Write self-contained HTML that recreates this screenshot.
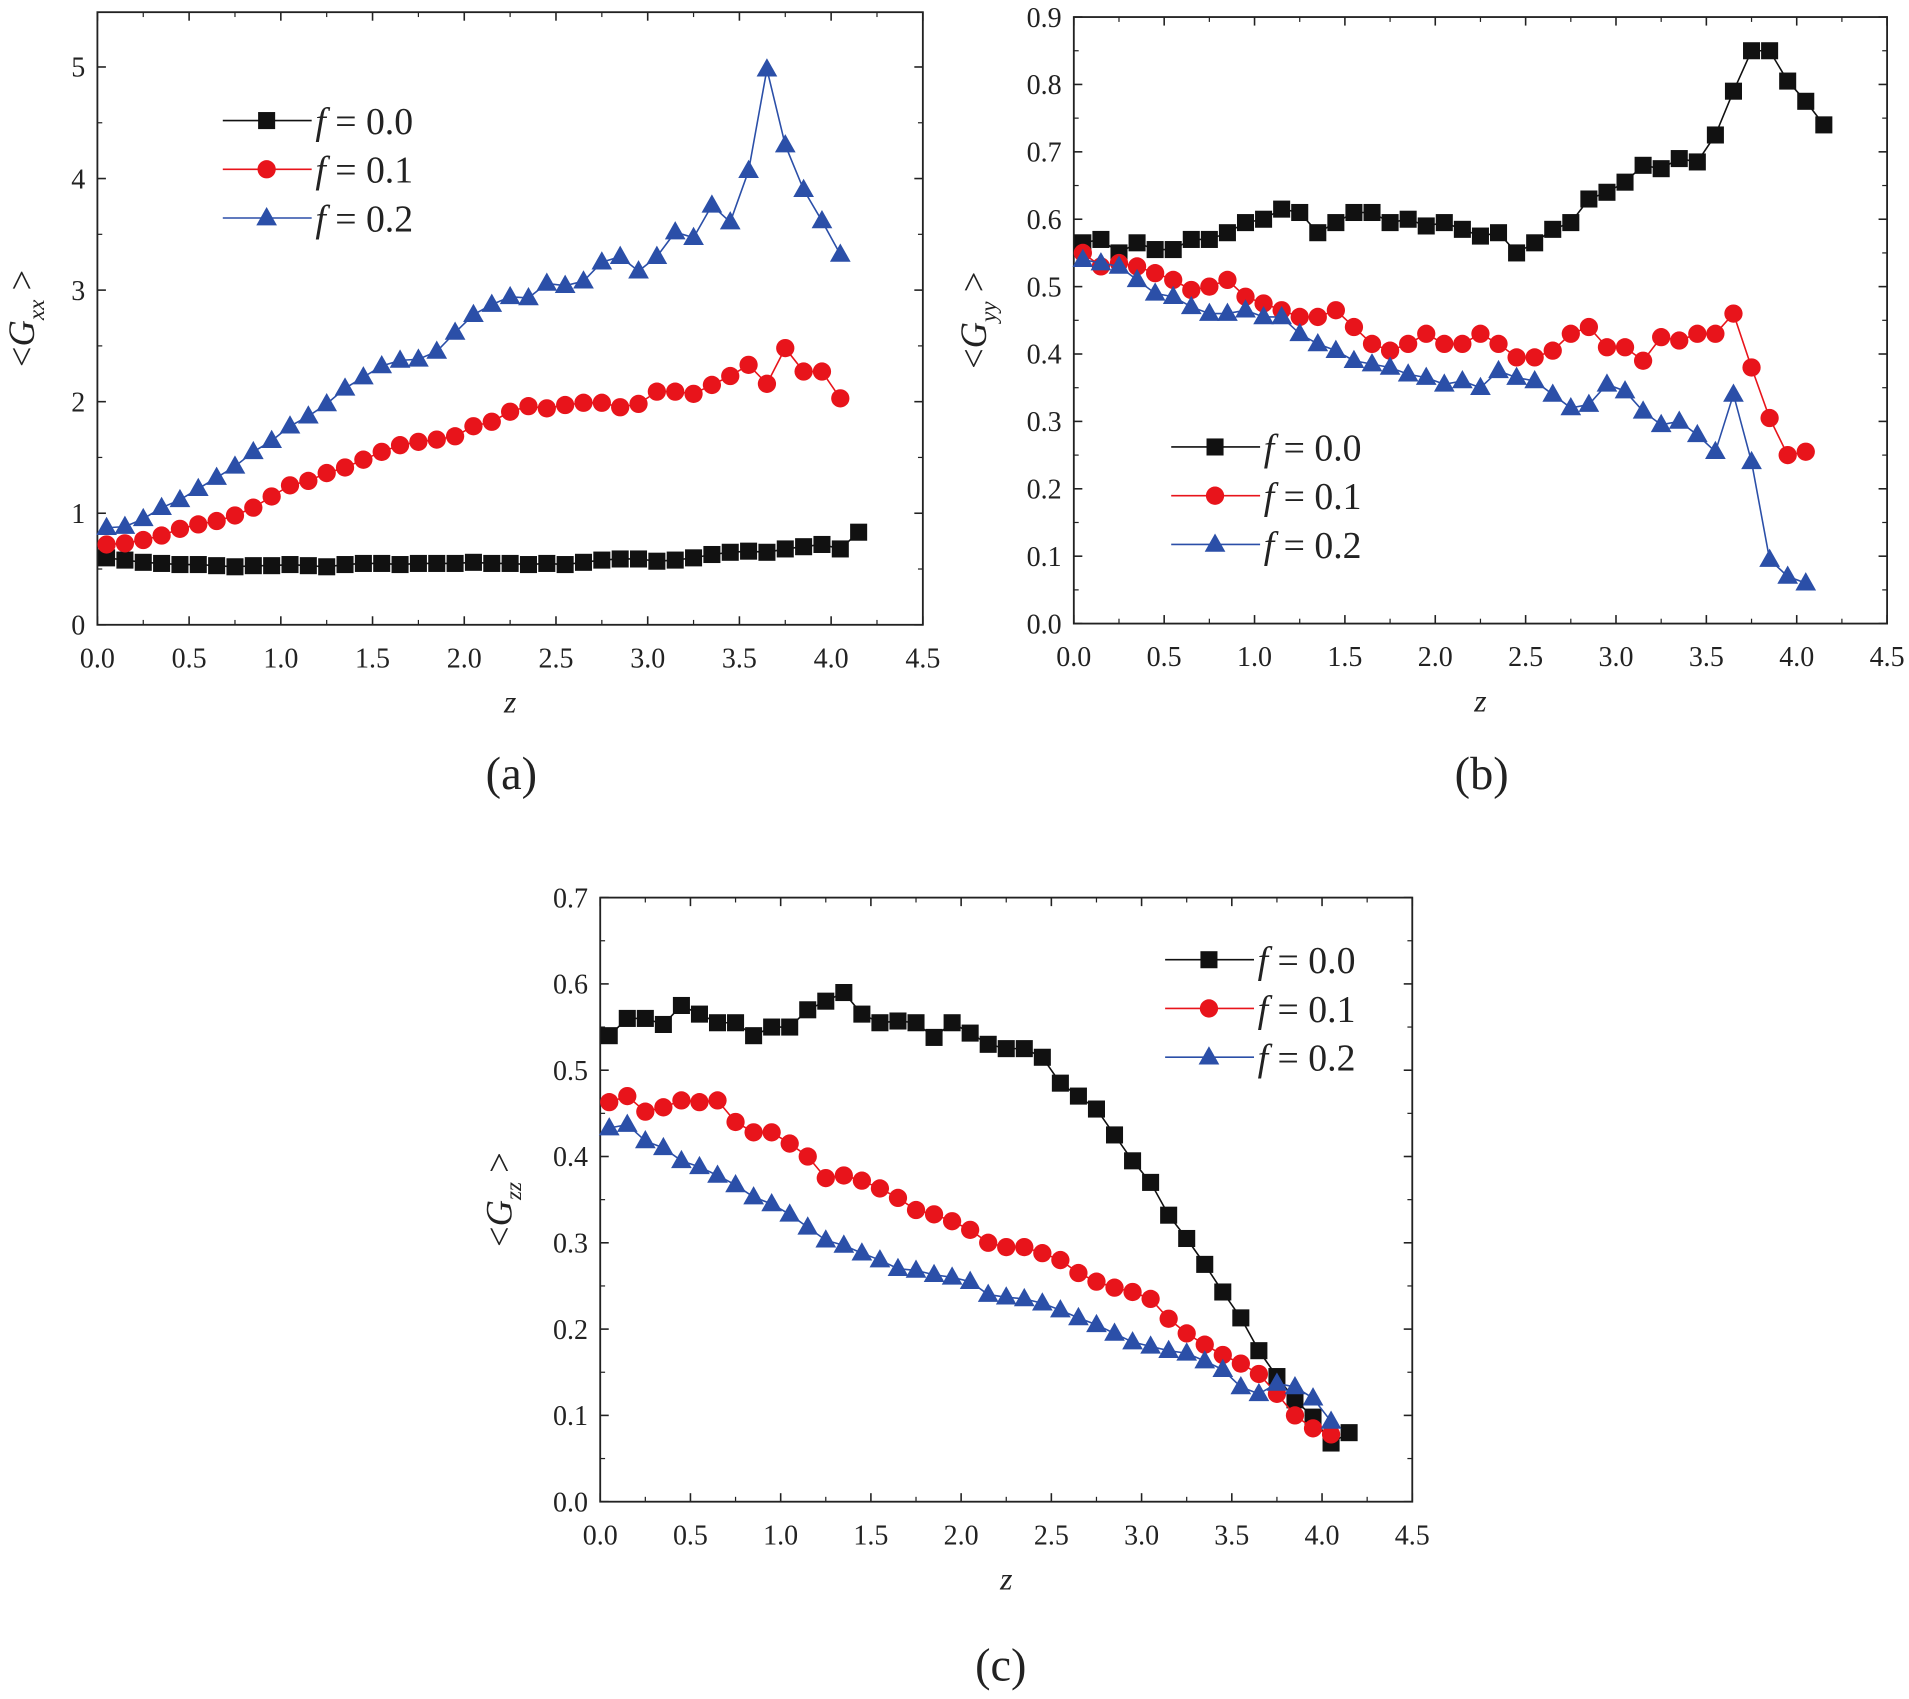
<!DOCTYPE html>
<html><head><meta charset="utf-8"><style>
html,body{margin:0;padding:0;background:#fff;}
svg{display:block;}
svg text{font-family:"Liberation Serif","DejaVu Serif","Times New Roman",serif;fill:#222;}
</style></head><body>
<svg id="s" width="1909" height="1699" viewBox="0 0 1568 1395" preserveAspectRatio="none" xmlns="http://www.w3.org/2000/svg" font-family="Liberation Serif, DejaVu Serif, serif">
<text x="420" y="648" font-size="38" text-anchor="middle">(a)</text>
<text x="1217" y="648" font-size="38" text-anchor="middle">(b)</text>
<text x="822" y="1380" font-size="38" text-anchor="middle">(c)</text>
</svg>
<script>
const NS="http://www.w3.org/2000/svg",S=document.getElementById('s');
function el(t,a,txt){const e=document.createElementNS(NS,t);for(const k in a)e.setAttribute(k,a[k]);if(txt!==undefined)e.textContent=txt;S.appendChild(e);return e;}
function marker(type,x,y,c){
 if(type==0)el('rect',{x:x-7,y:y-7,width:14,height:14,fill:'#111'});
 else if(type==1)el('circle',{cx:x,cy:y,r:7.5,fill:'#e8141b'});
 else el('polygon',{points:`${x},${y-9} ${x-8.5},${y+6} ${x+8.5},${y+6}`,fill:'#2b4fa8'});
}
const cols=['#111','#e8141b','#2b4fa8'];
function plot(P){
 const X=v=>P.x0+(P.x1-P.x0)*v/4.5, Y=v=>P.y0+(P.y1-P.y0)*(v-0)/P.ymaxTick;
 el('rect',{x:P.x0,y:P.top,width:P.x1-P.x0,height:P.y0-P.top,fill:'none',stroke:'#222','stroke-width':1.5});
 for(let i=0;i<=9;i++){const v=i*0.5,x=X(v);
  el('line',{x1:x,y1:P.y0,x2:x,y2:P.y0-7,stroke:'#222','stroke-width':1.3});
  el('line',{x1:x,y1:P.top,x2:x,y2:P.top+7,stroke:'#222','stroke-width':1.3});
  if(i<9){const xm=X(v+0.25);el('line',{x1:xm,y1:P.y0,x2:xm,y2:P.y0-4,stroke:'#222'});el('line',{x1:xm,y1:P.top,x2:xm,y2:P.top+4,stroke:'#222'});}
  el('text',{x:x,y:P.y0+35,'font-size':23,'text-anchor':'middle'},v.toFixed(1));}
 P.yt.forEach((v,i)=>{const y=Y(v);
  el('line',{x1:P.x0,y1:y,x2:P.x0+7,y2:y,stroke:'#222','stroke-width':1.3});
  el('line',{x1:P.x1,y1:y,x2:P.x1-7,y2:y,stroke:'#222','stroke-width':1.3});
  const ym=Y(v+P.step/2); if(ym>P.top){el('line',{x1:P.x0,y1:ym,x2:P.x0+4,y2:ym,stroke:'#222'});el('line',{x1:P.x1,y1:ym,x2:P.x1-4,y2:ym,stroke:'#222'});}
  el('text',{x:P.x0-10,y:y+8,'font-size':23,'text-anchor':'end'},P.fmt(v));});
 el('text',{x:(P.x0+P.x1)/2,y:P.y0+72,'font-size':26,'font-style':'italic','text-anchor':'middle'},'z');
 const cy=(P.top+P.y0)/2;
 const g=el('text',{x:0,y:0,'font-size':30,transform:`translate(${P.x0-P.lab},${cy}) rotate(-90)`,'text-anchor':'middle'});
 g.innerHTML=`&lt;<tspan font-style="italic">G</tspan><tspan font-style="italic" font-size="19" dy="8">${P.sub}</tspan><tspan dy="-8"> &gt;</tspan>`;
 P.data.forEach((d,k)=>{
  const pts=d.map((v,i)=>[X(0.05+0.1*i),Y(v)]);
  el('polyline',{points:pts.map(p=>p.join(',')).join(' '),fill:'none',stroke:cols[k],'stroke-width':1.3});
  pts.forEach(p=>marker(k,p[0],p[1]));});
 ['0.0','0.1','0.2'].forEach((f,k)=>{const y=P.leg[1]+40*k;
  el('line',{x1:P.leg[0],y1:y,x2:P.leg[0]+73,y2:y,stroke:cols[k],'stroke-width':1.3});
  marker(k,P.leg[0]+36,y);
  const t=el('text',{x:P.leg[0]+76,y:y+11,'font-size':31});t.innerHTML='<tspan font-style="italic">f</tspan> = '+f;});
}
plot({x0:80,x1:758,y0:513,y1:55,top:10,lab:52,ymaxTick:5,step:1,yt:[0,1,2,3,4,5],fmt:v=>String(v),sub:'xx',leg:[183,99],data:[
[0.6,0.58,0.56,0.55,0.54,0.54,0.53,0.52,0.53,0.53,0.54,0.53,0.52,0.54,0.55,0.55,0.54,0.55,0.55,0.55,0.56,0.55,0.55,0.54,0.55,0.54,0.56,0.58,0.59,0.59,0.57,0.58,0.6,0.63,0.65,0.66,0.65,0.68,0.7,0.72,0.68,0.83],
[0.72,0.73,0.76,0.8,0.86,0.9,0.93,0.98,1.05,1.15,1.25,1.29,1.36,1.41,1.48,1.55,1.61,1.64,1.66,1.69,1.78,1.82,1.91,1.96,1.94,1.97,1.99,1.99,1.95,1.98,2.09,2.09,2.07,2.15,2.23,2.33,2.16,2.48,2.27,2.27,2.03],
[0.87,0.88,0.95,1.05,1.12,1.22,1.32,1.42,1.55,1.65,1.78,1.87,1.98,2.12,2.22,2.32,2.37,2.38,2.45,2.62,2.78,2.87,2.94,2.93,3.06,3.04,3.08,3.25,3.3,3.17,3.3,3.52,3.47,3.76,3.61,4.07,4.98,4.3,3.9,3.62,3.32]]});
plot({x0:882,x1:1550,y0:512,y1:14,top:14,lab:72,ymaxTick:0.9,step:0.1,yt:[0,.1,.2,.3,.4,.5,.6,.7,.8,.9],fmt:v=>v.toFixed(1),sub:'yy',leg:[962,367],data:[
[0.565,0.57,0.55,0.565,0.555,0.555,0.57,0.57,0.58,0.595,0.6,0.615,0.61,0.58,0.595,0.61,0.61,0.595,0.6,0.59,0.595,0.585,0.575,0.58,0.55,0.565,0.585,0.595,0.63,0.64,0.655,0.68,0.675,0.69,0.685,0.725,0.79,0.85,0.85,0.805,0.775,0.74],
[0.55,0.53,0.535,0.53,0.52,0.51,0.495,0.5,0.51,0.485,0.475,0.465,0.455,0.455,0.465,0.44,0.415,0.405,0.415,0.43,0.415,0.415,0.43,0.415,0.395,0.395,0.405,0.43,0.44,0.41,0.41,0.39,0.425,0.42,0.43,0.43,0.46,0.38,0.305,0.25,0.255],
[0.54,0.535,0.53,0.51,0.49,0.485,0.47,0.46,0.46,0.465,0.455,0.455,0.43,0.415,0.405,0.39,0.385,0.38,0.37,0.365,0.355,0.36,0.35,0.375,0.365,0.36,0.34,0.32,0.325,0.355,0.345,0.315,0.295,0.3,0.28,0.255,0.34,0.24,0.095,0.07,0.06]]});
plot({x0:493,x1:1160,y0:1233,y1:737,top:737,lab:73,ymaxTick:0.7,step:0.1,yt:[0,.1,.2,.3,.4,.5,.6,.7],fmt:v=>v.toFixed(1),sub:'zz',leg:[957,788],data:[
[0.54,0.56,0.56,0.553,0.575,0.565,0.555,0.555,0.54,0.55,0.55,0.57,0.58,0.59,0.565,0.555,0.557,0.555,0.538,0.555,0.543,0.53,0.525,0.525,0.515,0.485,0.47,0.455,0.425,0.395,0.37,0.332,0.305,0.275,0.243,0.213,0.175,0.145,0.118,0.098,0.068,0.08],
[0.463,0.47,0.452,0.457,0.465,0.463,0.465,0.44,0.428,0.428,0.415,0.4,0.375,0.378,0.372,0.363,0.352,0.338,0.333,0.325,0.315,0.3,0.295,0.295,0.288,0.28,0.265,0.255,0.248,0.243,0.235,0.212,0.195,0.182,0.17,0.16,0.148,0.125,0.1,0.085,0.078],
[0.433,0.437,0.418,0.41,0.395,0.388,0.378,0.367,0.353,0.345,0.333,0.318,0.303,0.297,0.288,0.28,0.27,0.268,0.263,0.26,0.255,0.24,0.237,0.235,0.23,0.222,0.213,0.205,0.195,0.185,0.18,0.175,0.172,0.163,0.153,0.133,0.125,0.137,0.133,0.12,0.093]]});
</script>
</body></html>
